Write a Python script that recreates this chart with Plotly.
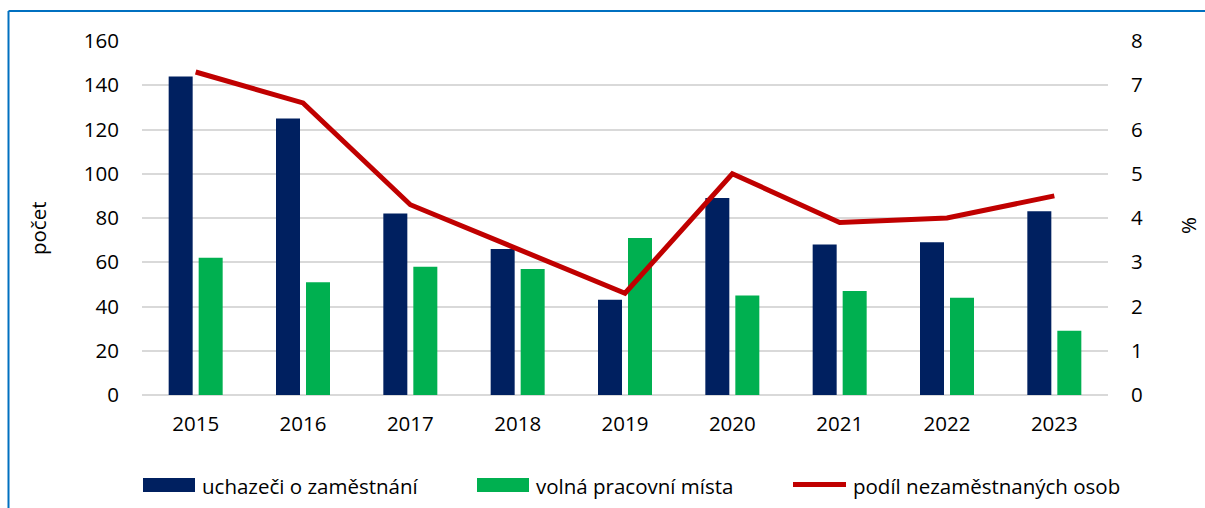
import plotly.graph_objects as go

years = ["2015", "2016", "2017", "2018", "2019", "2020", "2021", "2022", "2023"]
uchazeci = [144, 125, 82, 66, 43, 89, 68, 69, 83]
volna_mista = [62, 51, 58, 57, 71, 45, 47, 44, 29]
podil = [7.3, 6.6, 4.3, 3.3, 2.3, 5.0, 3.9, 4.0, 4.5]

names = ["uchazeči o zaměstnání", "volná pracovní místa", "podíl nezaměstnaných osob"]
C_BLUE = "#002060"
C_GREEN = "#00B050"
C_RED = "#C00000"
FONT = "Open Sans"
FS = 20.5

W, H = 1205, 508
L, R, T, B = 142, 97, 41, 113
PW, PH = W - L - R, H - T - B


def px(x):
    return (x - L) / PW


def py(y):
    return (H - B - y) / PH


fig = go.Figure()
fig.add_trace(go.Bar(x=years, y=uchazeci, name=names[0], marker_color=C_BLUE,
                     marker_line_width=0, showlegend=False))
fig.add_trace(go.Bar(x=years, y=volna_mista, name=names[1], marker_color=C_GREEN,
                     marker_line_width=0, showlegend=False))
fig.add_trace(go.Scatter(x=years, y=podil, name=names[2], yaxis="y2", mode="lines",
                         line=dict(color=C_RED, width=5), showlegend=False))

shapes = [
    # outer border (top and left visible)
    dict(type="line", xref="paper", yref="paper", x0=px(8.5), x1=px(1210), y0=py(11), y1=py(11),
         line=dict(color="#0070C0", width=2)),
    dict(type="line", xref="paper", yref="paper", x0=px(8.5), x1=px(8.5), y0=py(11), y1=py(515),
         line=dict(color="#0070C0", width=2)),
    # legend swatches
    dict(type="rect", xref="paper", yref="paper", x0=px(143), x1=px(195), y0=py(478), y1=py(492),
         fillcolor=C_BLUE, line_width=0),
    dict(type="rect", xref="paper", yref="paper", x0=px(477), x1=px(529), y0=py(478), y1=py(492),
         fillcolor=C_GREEN, line_width=0),
    dict(type="line", xref="paper", yref="paper", x0=px(793), x1=px(846), y0=py(484.5), y1=py(484.5),
         line=dict(color=C_RED, width=5)),
]

annotations = [
    dict(text=names[0], x=px(200), y=py(486), xref="paper", yref="paper", xanchor="left",
         yanchor="middle", showarrow=False),
    dict(text=names[1], x=px(534), y=py(486), xref="paper", yref="paper", xanchor="left",
         yanchor="middle", showarrow=False),
    dict(text=names[2], x=px(851), y=py(486), xref="paper", yref="paper", xanchor="left",
         yanchor="middle", showarrow=False),
    dict(text="počet", x=px(38), y=py(228), xref="paper", yref="paper", xanchor="center",
         yanchor="middle", textangle=-90, showarrow=False),
    dict(text="%", x=px(1188), y=py(226), xref="paper", yref="paper", xanchor="center",
         yanchor="middle", textangle=-90, showarrow=False),
]

fig.update_layout(
    width=W, height=H,
    margin=dict(l=L, r=R, t=T, b=B),
    paper_bgcolor="white", plot_bgcolor="white",
    font=dict(family=FONT, size=FS, color="#000000"),
    barmode="group", bargap=0.441, bargroupgap=0.2,
    showlegend=False,
    shapes=shapes, annotations=annotations,
    xaxis=dict(type="category", showgrid=False, showline=False, ticks="",
               ticklabelstandoff=14),
    yaxis=dict(range=[0, 160], dtick=20, showgrid=True, gridcolor="#D9D9D9", gridwidth=1.5,
               zeroline=True, zerolinecolor="#D9D9D9", zerolinewidth=1.5,
               showline=False, ticks="", ticklabelstandoff=22),
    yaxis2=dict(range=[0, 8], dtick=1, overlaying="y", side="right", showgrid=False,
                zeroline=False, showline=False, ticks="", ticklabelstandoff=22),
)

fig.write_html("out.html", config={"displayModeBar": False},
               post_script="document.body.style.margin='0';")
